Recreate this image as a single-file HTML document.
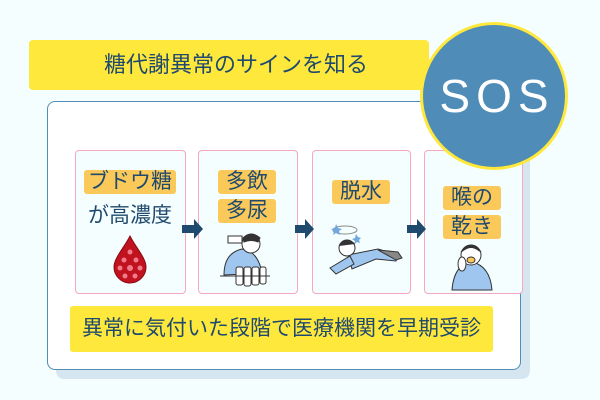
<!DOCTYPE html>
<html><head><meta charset="utf-8"><style>
body{margin:0;width:600px;height:400px;background:#f5fefe;position:relative;overflow:hidden;font-family:"Liberation Sans","Noto Sans CJK JP",sans-serif;color:#1f4a6e}
.a{position:absolute}
.banner{left:29px;top:40px;width:400px;height:50px;background:#ffe83c;border-radius:4px}
.banner span{position:absolute;left:75px;top:11px;font-size:22px;line-height:28px}
.main{left:47px;top:101px;width:472px;height:267px;background:#fff;border:1.5px solid #4f8db8;border-radius:8px;box-shadow:9px 9px 0 #d5e6f0}
.card{background:#f5fefe;border:1.5px solid #f5a8bf;border-radius:4px;top:150px;height:142px}
.lab{background:#fbc95a;border-radius:3px;font-size:21px;line-height:24px;text-align:center;color:#1f4a6e}
.circle{left:420px;top:22px;width:142px;height:142px;border-radius:50%;background:#4f8db8;border:3px solid #ffe83c;color:#fff;font-size:46px;text-align:center;line-height:142px;letter-spacing:6px;text-indent:6px}
.bottom{left:70px;top:306px;width:423px;height:46px;background:#ffe83c;border-radius:3px;font-size:21px;text-align:center;line-height:46px}
</style></head><body>
<div class="a banner"><span>糖代謝異常のサインを知る</span></div>
<div class="a main"></div>
<div class="a card" style="left:75px;width:109px"></div>
<div class="a card" style="left:198px;width:98px"></div>
<div class="a card" style="left:312px;width:97px"></div>
<div class="a card" style="left:424px;width:97px"></div>

<div class="a lab" style="left:84px;top:170px;width:92px">ブドウ糖</div>
<div class="a" style="left:80px;top:199px;width:100px;text-align:center;font-size:21px">が高濃度</div>
<div class="a lab" style="left:218px;top:170px;width:58px">多飲</div>
<div class="a lab" style="left:218px;top:199px;width:58px">多尿</div>
<div class="a lab" style="left:332px;top:180px;width:58px">脱水</div>
<div class="a lab" style="left:443px;top:186px;width:58px">喉の</div>
<div class="a lab" style="left:443px;top:215px;width:58px">乾き</div>

<svg class="a" style="left:0;top:0" width="600" height="400">
<g fill="#1f4a6e">
<path d="M182 225h12v-6l9 10-9 10v-6h-12z"/>
<path d="M295 225h10v-6l9 10-9 10v-6h-10z"/>
<path d="M407 225h10v-6l9 10-9 10v-6h-10z"/>
</g>
<path d="M130 236 C124 248 114 258 114 267 a16 16 0 0 0 32 0 C146 258 136 248 130 236z" fill="#c0121f" stroke="#8a0b14"/>
<g fill="#f27b8a"><circle cx="130" cy="252" r="2.5"/><circle cx="124" cy="260" r="2.5"/><circle cx="136" cy="260" r="2.5"/><circle cx="120" cy="268" r="2.5"/><circle cx="130" cy="268" r="3"/><circle cx="140" cy="268" r="2.5"/><circle cx="125" cy="276" r="2.5"/><circle cx="135" cy="276" r="2.5"/></g>
<g stroke="#333" stroke-width="1">
<path d="M224 275 q0-22 18-26 q16 2 20 24z" fill="#9fc6ee"/>
<circle cx="251" cy="244" r="9" fill="#fff"/>
<path d="M243 238 q8-8 17 0 l-2 4 q-7-3-14 0z" fill="#333"/>
<rect x="228" y="236" width="14" height="7" fill="#fff"/>
<g fill="#fff"><rect x="236" y="267" width="7" height="18" rx="2"/><rect x="244" y="267" width="7" height="19" rx="2"/><rect x="252" y="267" width="7" height="18" rx="2"/><rect x="260" y="267" width="6" height="17" rx="2"/></g>
<path d="M220 276h50"/>
</g>
<g stroke="#333" stroke-width="1">
<ellipse cx="345" cy="230" rx="12" ry="4" fill="none" stroke="#888"/>
<path d="M348 255 l30-6 20 6 -2 6 -20 -2 -24 10z" fill="#9fc6ee"/>
<path d="M378 250 l20 2 4 6 -6 2z" fill="#888"/>
<path d="M330 268 l20-12 4 8 -18 10z" fill="#9fc6ee"/>
<circle cx="347" cy="248" r="8" fill="#fff"/>
<path d="M339 246 q6-10 16-2" fill="#333"/>
</g>
<g fill="#6fa8dc"><path d="M336 224l2 4 4 1-3 2 1 4-4-2-3 2 1-4-3-2 4-1z"/><path d="M356 234l2 3 3 1-2 2 1 3-3-1-3 2 1-3-3-2 3-1z"/></g>
<g stroke="#333" stroke-width="1">
<path d="M452 290 q2-26 20-28 q18 4 20 28z" fill="#9fc6ee"/>
<circle cx="471" cy="255" r="10" fill="#fff"/>
<path d="M461 252 q10-14 20 0 l-3-2 q-7-5-14 0z" fill="#333"/>
<ellipse cx="471" cy="260" rx="4" ry="3" fill="#fbc95a"/>
<ellipse cx="462" cy="264" rx="4" ry="7" fill="#fff"/>
</g>
</svg>

<div class="a circle">SOS</div>
<div class="a bottom">異常に気付いた段階で医療機関を早期受診</div>
</body></html>
